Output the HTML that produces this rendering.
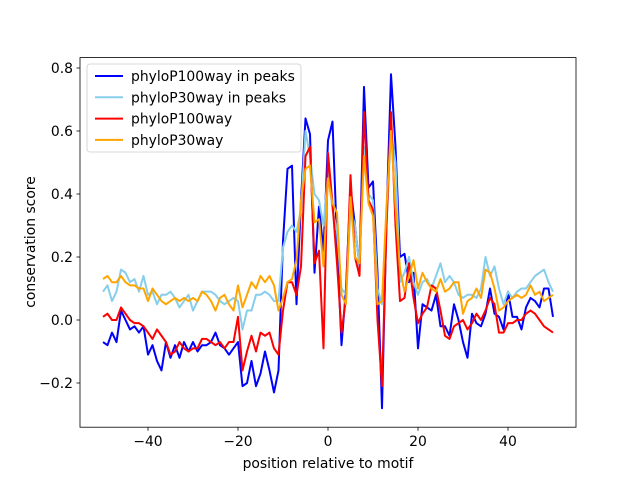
<!DOCTYPE html>
<html><head><meta charset="utf-8"><style>
body{margin:0;background:#fff;}
svg text{font-family:"DejaVu Sans","Liberation Sans",sans-serif;fill:#000;}
</style></head><body>
<svg id="chart" width="640" height="480" viewBox="0 0 640 480" xmlns="http://www.w3.org/2000/svg">
<rect width="640" height="480" fill="#fff"/>
<g id="series"></g>
<rect x="80" y="57.6" width="496" height="369.6" fill="none" stroke="#000" stroke-width="0.8"/>
<g id="xticks"></g>
<g id="yticks"></g>
<text x="328" y="468" font-size="13.9" text-anchor="middle">position relative to motif</text>
<text transform="translate(35,242) rotate(-90)" font-size="13.9" text-anchor="middle">conservation score</text>
<g id="legend">
<rect x="87" y="64" width="214" height="88" rx="3" fill="#fff" fill-opacity="0.8" stroke="#ccc" stroke-width="0.8"/>
</g>
</svg>
<script>
const categories = [];
for (let i = -50; i <= 50; i++) categories.push(i);
const seriesNames = ["phyloP100way in peaks","phyloP30way in peaks","phyloP100way","phyloP30way"];
const blueVals = [-0.07,-0.08,-0.04,-0.07,0.03,0.0,-0.03,-0.02,-0.04,-0.02,
-0.11,-0.08,-0.13,-0.16,-0.07,-0.12,-0.08,-0.12,-0.07,-0.1,
-0.07,-0.1,-0.08,-0.08,-0.07,-0.04,-0.08,-0.09,-0.11,-0.09,
-0.07,-0.21,-0.2,-0.13,-0.21,-0.17,-0.1,-0.16,-0.23,-0.16,
0.25,0.48,0.49,0.05,0.38,0.64,0.59,0.15,0.36,0.22,
0.57,0.63,0.25,-0.08,0.1,0.42,0.3,0.17,0.74,0.42,
0.44,0.15,-0.28,0.32,0.78,0.55,0.2,0.21,0.12,0.15,
-0.09,0.05,0.04,0.03,0.08,-0.02,-0.02,-0.05,0.05,0.0,
-0.07,-0.12,0.02,-0.01,-0.02,0.02,0.1,0.02,0.01,-0.03,
0.09,0.01,0.01,-0.03,0.04,0.07,0.06,0.04,0.1,0.1,0.01];
const lightBlueVals = [0.09,0.11,0.06,0.09,0.16,0.15,0.12,0.13,0.09,0.14,
0.08,0.09,0.05,0.08,0.08,0.09,0.07,0.04,0.06,0.08,
0.03,0.06,0.09,0.09,0.09,0.08,0.06,0.05,0.06,0.07,
0.06,-0.03,0.03,0.03,0.08,0.08,0.09,0.08,0.06,0.06,
0.23,0.28,0.3,0.28,0.35,0.6,0.52,0.4,0.38,0.3,
0.47,0.35,0.28,0.1,0.08,0.35,0.3,0.17,0.55,0.4,
0.38,0.1,0.05,0.3,0.6,0.5,0.12,0.15,0.2,0.12,
0.08,0.12,0.13,0.1,0.14,0.18,0.12,0.14,0.12,0.08,
0.07,0.08,0.08,0.07,0.1,0.2,0.14,0.17,0.1,0.05,
0.09,0.07,0.09,0.1,0.1,0.12,0.14,0.15,0.16,0.12,0.09];
const redVals = [0.01,0.02,0.0,0.0,0.04,0.02,0.0,-0.01,-0.01,-0.02,
-0.04,-0.06,-0.03,-0.05,-0.07,-0.11,-0.1,-0.07,-0.09,-0.1,
-0.09,-0.09,-0.06,-0.06,-0.07,-0.08,-0.07,-0.09,-0.07,-0.07,
0.01,-0.16,-0.1,-0.05,-0.1,-0.04,-0.05,-0.04,-0.09,-0.11,
0.03,0.12,0.12,0.08,0.17,0.52,0.55,0.18,0.22,-0.09,
0.53,0.37,0.18,-0.04,0.07,0.46,0.2,0.14,0.66,0.38,
0.35,0.0,-0.21,0.3,0.66,0.3,0.06,0.07,0.18,0.07,
-0.01,0.02,0.04,0.11,0.1,0.03,-0.05,-0.06,-0.02,-0.01,
0.0,-0.03,-0.01,0.02,0.0,0.03,0.07,0.05,-0.04,-0.04,
-0.01,-0.01,0.0,0.0,0.02,0.03,0.02,0.0,-0.02,-0.03,-0.04];
const orangeVals = [0.13,0.14,0.12,0.12,0.14,0.12,0.11,0.11,0.1,0.1,
0.06,0.1,0.08,0.06,0.05,0.06,0.07,0.06,0.07,0.06,
0.07,0.06,0.09,0.08,0.06,0.03,0.07,0.08,0.05,0.03,
0.11,0.04,0.08,0.12,0.1,0.14,0.12,0.14,0.11,0.03,
0.07,0.12,0.13,0.19,0.38,0.48,0.49,0.31,0.32,0.17,
0.45,0.37,0.34,0.08,0.05,0.39,0.2,0.18,0.52,0.37,
0.33,0.05,0.06,0.36,0.6,0.36,0.16,0.09,0.14,0.19,
0.1,0.15,0.12,0.1,0.09,0.13,0.09,0.1,0.12,0.12,
0.02,0.06,0.07,0.1,0.07,0.16,0.15,0.1,0.03,0.04,
0.06,0.07,0.08,0.07,0.08,0.11,0.08,0.09,0.06,0.07,0.08];
const xTicks = [-40,-20,0,20,40];
const yTicks = [-0.2,0.0,0.2,0.4,0.6,0.8];
const colors = ["#0000ff","#87ceeb","#ff0000","#ffa500"];

const NS = "http://www.w3.org/2000/svg";
function xs(v){ return 328 + v*4.5; }
function ys(v){ return 320 - v*315; }

const sg = document.getElementById("series");
const allSeries = [blueVals, lightBlueVals, redVals, orangeVals];
const sNames = ["series-phylop100way-in-peaks","series-phylop30way-in-peaks","series-phylop100way","series-phylop30way"];
allSeries.forEach((vals, k) => {
  const p = document.createElementNS(NS, "polyline");
  
  
  p.setAttribute("points", vals.map((v,i)=>xs(categories[i]).toFixed(2)+","+ys(v).toFixed(2)).join(" "));
  p.setAttribute("fill","none");
  p.setAttribute("stroke",colors[k]);
  p.setAttribute("stroke-width","2");
  p.setAttribute("stroke-linejoin","round");
  sg.appendChild(p);
});

const xg = document.getElementById("xticks");
xTicks.forEach(t => {
  const l = document.createElementNS(NS,"line");
  
  
  l.setAttribute("x1",xs(t)); l.setAttribute("x2",xs(t));
  l.setAttribute("y1",427.2); l.setAttribute("y2",430.7);
  l.setAttribute("stroke","#000"); l.setAttribute("stroke-width","0.8");
  xg.appendChild(l);
  const tx = document.createElementNS(NS,"text");
  
  
  tx.setAttribute("x",xs(t)); tx.setAttribute("y",446);
  tx.setAttribute("font-size","13.9"); tx.setAttribute("text-anchor","middle");
  tx.textContent = (t<0?"\u2212":"")+Math.abs(t);
  xg.appendChild(tx);
});
const yg = document.getElementById("yticks");
yTicks.forEach(t => {
  const l = document.createElementNS(NS,"line");
  
  
  l.setAttribute("x1",76.5); l.setAttribute("x2",80);
  l.setAttribute("y1",ys(t)); l.setAttribute("y2",ys(t));
  l.setAttribute("stroke","#000"); l.setAttribute("stroke-width","0.8");
  yg.appendChild(l);
  const tx = document.createElementNS(NS,"text");
  
  
  tx.setAttribute("x",73); tx.setAttribute("y",ys(t)+5);
  tx.setAttribute("font-size","13.9"); tx.setAttribute("text-anchor","end");
  tx.textContent = (t<0?"\u2212":"")+Math.abs(t).toFixed(1);
  yg.appendChild(tx);
});

const lg = document.getElementById("legend");
seriesNames.forEach((n,k) => {
  const y = 76 + k*21.3;
  const l = document.createElementNS(NS,"line");
  
  
  l.setAttribute("x1",95); l.setAttribute("x2",123);
  l.setAttribute("y1",y); l.setAttribute("y2",y);
  l.setAttribute("stroke",colors[k]); l.setAttribute("stroke-width","2");
  lg.appendChild(l);
  const tx = document.createElementNS(NS,"text");
  
  
  tx.setAttribute("x",131); tx.setAttribute("y",y+5);
  tx.setAttribute("font-size","13.9");
  tx.textContent = n;
  lg.appendChild(tx);
});
</script>
</body></html>
